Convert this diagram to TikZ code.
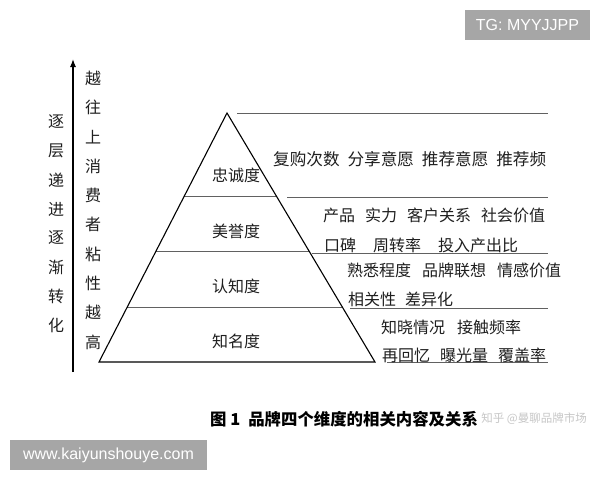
\documentclass[tikz,border=0pt]{standalone}
\usepackage{fontspec}
\setmainfont{Liberation Sans}
\newfontfamily\cjk{Noto Sans CJK SC}
\usetikzlibrary{calc,arrows.meta}
\newcommand\gp[1]{\hspace{#1pt}}
\begin{document}
\begin{tikzpicture}[x=1pt,y=-1pt,
  lbl/.style={font=\cjk\fontsize{16}{16}\selectfont, text=black!88, inner sep=0pt, anchor=west},
  lvl/.style={font=\cjk\fontsize{16}{16}\selectfont, text=black!88, inner sep=0pt},
  colch/.style={font=\cjk\fontsize{16}{16}\selectfont, text=black!88, inner sep=0pt},
  pyr/.style={draw=black, line width=1.1pt, line join=miter},
  hline/.style={draw=black!62, line width=1pt},
  wbox/.style={fill=black!35, text=white, inner sep=0pt, font=\fontsize{16}{16}\selectfont}
]
\useasboundingbox[fill=white] (0,0) rectangle (600,480);

% watermark boxes
\node[wbox, minimum width=125pt, minimum height=30pt] (tg) at (527.5,25) {TG: MYYJJPP};
\node[wbox, minimum width=197pt, minimum height=30pt] (www) at (108.5,455) {www.kaiyunshouye.com};

% arrow
\coordinate (arB) at (73,372);
\coordinate (arT) at (73,59);
\draw[line width=1.2pt, -{Latex[length=8pt,width=6pt]}] (arB) -- (arT);

% columns of characters
\foreach \c [count=\i from 0] in {越,往,上,消,费,者,粘,性,越,高}
  \node[colch] (r\i) at (93,78+29.33*\i) {\c};
\foreach \c [count=\i from 0] in {逐,层,递,进,逐,渐,转,化}
  \node[colch] (l\i) at (56,122+29*\i) {\c};

% pyramid
\coordinate (A) at (227,113);
\coordinate (BL) at (99,362);
\coordinate (BR) at (375,362);
\coordinate (L1) at ($(A)!0.337!(BL)$);
\coordinate (R1) at ($(A)!0.337!(BR)$);
\coordinate (L2) at ($(A)!0.558!(BL)$);
\coordinate (R2) at ($(A)!0.558!(BR)$);
\coordinate (L3) at ($(A)!0.783!(BL)$);
\coordinate (R3) at ($(A)!0.783!(BR)$);
\draw[hline] (L1) -- (R1);
\draw[hline] (L2) -- (R2);
\draw[hline] (L3) -- (R3);
\draw[pyr] (A) -- (BR) -- (BL) -- cycle;

% right-side rules
\coordinate (h0a) at (237,113); \coordinate (h0b) at (548,113);
\coordinate (h1a) at (287,197); \coordinate (h1b) at (548,197);
\coordinate (h2a) at (312,253); \coordinate (h2b) at (548,253);
\coordinate (h3a) at (350,308); \coordinate (h3b) at (548,308);
\coordinate (h4a) at (387,362); \coordinate (h4b) at (548,362);
\foreach \k in {0,...,4} \draw[hline] (h\k a) -- (h\k b);

% level names
\node[lvl] (zc) at (236,175) {忠诚度};
\node[lvl] (my) at (236,231) {美誉度};
\node[lvl] (rz) at (236,286) {认知度};
\node[lvl] (zm) at (236,341) {知名度};

% indicators
\node[lbl, font=\cjk\fontsize{16.6}{16.6}\selectfont] (t1) at (273,159) {复购次数\gp{8}分享意愿\gp{8}推荐意愿\gp{8}推荐频};
\node[lbl] (t2) at (323,215) {产品\gp{10}实力\gp{10}客户关系\gp{10}社会价值};
\node[lbl] (t3) at (324,245) {口碑\gp{17}周转率\gp{17}投入产出比};
\node[lbl] (t4) at (347,270) {熟悉程度\gp{11}品牌联想\gp{11}情感价值};
\node[lbl] (t5) at (348,299) {相关性\gp{9}差异化};
\node[lbl] (t6) at (381,327) {知晓情况\gp{12}接触频率};
\node[lbl] (t7) at (382,355) {再回忆\gp{10}曝光量\gp{10}覆盖率};

% caption and watermark
\node[inner sep=0pt, anchor=west, text=black, font=\cjk\bfseries\fontsize{16.4}{16.4}\selectfont] (cap) at (210,419) {图 1\gp{8}品牌四个维度的相关内容及关系};
\node[inner sep=0pt, anchor=west, text=black!22, font=\cjk\fontsize{11.5}{11.5}\selectfont] (wm) at ([xshift=3pt]cap.east) {知乎 @曼聊品牌市场};
\end{tikzpicture}
\end{document}
